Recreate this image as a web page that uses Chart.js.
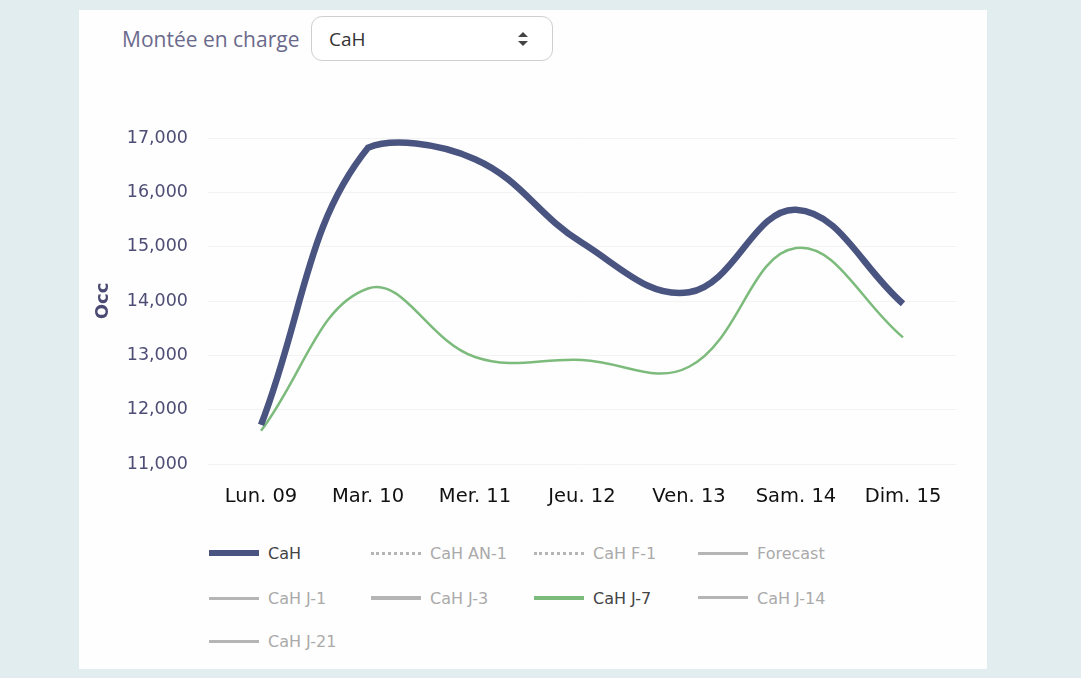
<!DOCTYPE html>
<html>
<head>
<meta charset="utf-8">
<script src="https://cdn.jsdelivr.net/npm/chart.js@4/dist/chart.umd.min.js"></script>
<style>
  html, body { margin:0; padding:0; }
  body { width:1081px; height:678px; background:#e2edf0; position:relative; overflow:hidden; font-family:"DejaVu Sans", sans-serif; }
  #panel { position:absolute; left:79px; top:10px; width:908px; height:659px; background:#fefefe; }
  #hdr { position:absolute; left:122px; top:24px; font-family:"Open Sans", sans-serif; font-size:21px; color:#6b6a8c; line-height:30px; }
  #sel { position:absolute; left:311px; top:16px; width:242px; height:45px; border:1px solid #cfcfcf; border-radius:11px; box-sizing:border-box; background:#fff; }
  #sel span { position:absolute; left:17px; top:8px; font-family:"Open Sans", sans-serif; font-size:19px; color:#333; line-height:28px; }
  #sel svg { position:absolute; left:204px; top:13px; }
  #cv { position:absolute; left:79px; top:80px; }
  .lg { position:absolute; font-size:16px; line-height:20px; white-space:nowrap; }
  .sw { position:absolute; width:50px; }
</style>
</head>
<body>
<div id="panel"></div>
<div id="hdr">Montée en charge</div>
<div id="sel"><span>CaH</span>
<svg width="14" height="18" viewBox="0 0 14 18"><path d="M2 7 L7 2 L12 7 Z" fill="#444"/><path d="M2 11 L7 16 L12 11 Z" fill="#444"/></svg></div>
<canvas id="cv" width="908" height="440"></canvas>
<div id="legend"></div>
<script>
// ---- data ----
const categories = ["Lun. 09", "Mar. 10", "Mer. 11", "Jeu. 12", "Ven. 13", "Sam. 14", "Dim. 15"];
const cahValues  = [11720, 16820, 16610, 15070, 14160, 15680, 13950];
const cahJ7Values = [11610, 14230, 12970, 12915, 12790, 14975, 13330];
const yTicks = [11000, 12000, 13000, 14000, 15000, 16000, 17000];
const legendNames = ["CaH", "CaH AN-1", "CaH F-1", "Forecast", "CaH J-1", "CaH J-3", "CaH J-7", "CaH J-14", "CaH J-21"];
const legendActive = ["CaH", "CaH J-7"];

// ---- legend (HTML, Plotly-like grid) ----
const legendStyle = {
  "CaH": {color:"#4a5480", w:6, dash:false},
  "CaH AN-1": {color:"#b5b5b5", w:3, dash:true},
  "CaH F-1": {color:"#b5b5b5", w:3, dash:true},
  "Forecast": {color:"#b5b5b5", w:3, dash:false},
  "CaH J-1": {color:"#b5b5b5", w:3, dash:false},
  "CaH J-3": {color:"#b5b5b5", w:4, dash:false},
  "CaH J-7": {color:"#7dbb7d", w:4, dash:false},
  "CaH J-14": {color:"#b5b5b5", w:3.5, dash:false},
  "CaH J-21": {color:"#b5b5b5", w:3, dash:false}
};
const colX = [209, 371, 534, 698];
const rowY = [553, 598, 641];
const lg = document.getElementById('legend');
legendNames.forEach((n, i) => {
  const c = i % 4, r = Math.floor(i / 4);
  const st = legendStyle[n];
  const sw = document.createElement('div');
  sw.className = 'sw';
  sw.style.left = colX[c] + 'px';
  sw.style.top = (rowY[r] - st.w / 2) + 'px';
  sw.style.height = '0px';
  sw.style.borderTop = st.w + 'px ' + (st.dash ? 'dotted ' : 'solid ') + st.color;
  lg.appendChild(sw);
  const t = document.createElement('div');
  t.className = 'lg';
  t.textContent = n;
  t.style.left = (colX[c] + 59) + 'px';
  t.style.top = (rowY[r] - 9) + 'px';
  t.style.color = legendActive.includes(n) ? '#444' : '#aaa';
  lg.appendChild(t);
});

// ---- chart ----
new Chart(document.getElementById('cv'), {
  type: 'line',
  data: {
    labels: categories,
    datasets: [
      { label: 'CaH', data: cahValues, borderColor: '#4a5480', borderWidth: 6.5, pointRadius: 0, tension: 0.4, fill: false },
      { label: 'CaH J-7', data: cahJ7Values, borderColor: '#7dbb7d', borderWidth: 2.5, pointRadius: 0, tension: 0.4, fill: false }
    ]
  },
  options: {
    responsive: false,
    animation: false,
    locale: 'en-US',
    layout: { padding: { top: 58, right: 30.5, left: 0, bottom: 0 } },
    plugins: { legend: { display: false }, tooltip: { enabled: false } },
    scales: {
      x: {
        offset: true,
        grid: { display: false, drawTicks: false },
        border: { display: false },
        ticks: { color: '#111', padding: 21, maxRotation: 0, font: { family: 'DejaVu Sans', size: 19.5 } },
        afterFit: s => { s.height = 56; }
      },
      y: {
        min: yTicks[0], max: yTicks[yTicks.length - 1],
        afterBuildTicks: s => { s.ticks = yTicks.map(v => ({ value: v })); },
        grid: { color: '#f3f3f3', drawTicks: false },
        border: { display: false },
        ticks: { color: '#4d4d75', padding: 19.5, font: { family: 'DejaVu Sans', size: 17.5 },
                 callback: v => v.toLocaleString('en-US') },
        title: { display: true, text: 'Occ', color: '#4a4a72', font: { family: 'DejaVu Sans', size: 18, weight: 'bold' }, padding: { top: 14, bottom: 0 } },
        afterFit: s => { s.width = 128.5; }
      }
    }
  }
});
</script>
</body>
</html>
